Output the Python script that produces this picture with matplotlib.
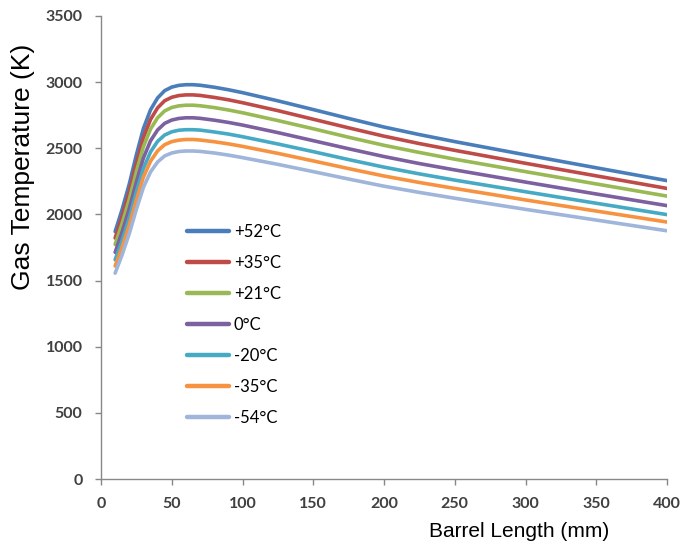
import matplotlib
matplotlib.use("Agg")
import matplotlib.pyplot as plt

# Barrel length (mm)
barrel = [10, 15, 20, 25, 30, 35, 40, 45, 50, 55, 60, 65, 70, 80, 90, 100,
          125, 150, 175, 200, 225, 250, 275, 300, 350, 400]

# Gas temperature (K) per initial propellant temperature
t_p52 = [1870, 2040, 2230, 2450, 2650, 2790, 2880, 2935, 2962, 2975, 2980, 2980, 2976,
         2961, 2942, 2920, 2858, 2792, 2725, 2660, 2603, 2550, 2500, 2450, 2352, 2255]
t_p35 = [1821, 1987, 2172, 2386, 2581, 2717, 2805, 2859, 2885, 2898, 2903, 2903, 2899,
         2884, 2866, 2844, 2784, 2719, 2654, 2591, 2535, 2484, 2435, 2386, 2291, 2196]
t_p21 = [1773, 1934, 2114, 2323, 2512, 2645, 2730, 2782, 2808, 2820, 2825, 2825, 2821,
         2807, 2789, 2768, 2709, 2647, 2583, 2522, 2468, 2417, 2370, 2323, 2230, 2138]
t_0 = [1713, 1869, 2043, 2244, 2427, 2556, 2638, 2688, 2713, 2725, 2730, 2730, 2726,
       2712, 2695, 2675, 2618, 2557, 2496, 2437, 2384, 2336, 2290, 2244, 2154, 2066]
t_m20 = [1657, 1807, 1976, 2171, 2348, 2472, 2552, 2600, 2624, 2636, 2640, 2640, 2637,
         2623, 2607, 2587, 2532, 2474, 2414, 2357, 2306, 2259, 2215, 2171, 2084, 1998]
t_m35 = [1610, 1756, 1920, 2109, 2282, 2402, 2480, 2527, 2550, 2561, 2566, 2566, 2562,
         2549, 2533, 2514, 2461, 2404, 2346, 2290, 2241, 2196, 2153, 2109, 2025, 1942]
t_m54 = [1556, 1697, 1855, 2038, 2205, 2321, 2396, 2442, 2464, 2475, 2479, 2479, 2476,
         2464, 2448, 2429, 2378, 2323, 2267, 2213, 2166, 2122, 2080, 2038, 1957, 1876]

labels = ["+52°C", "+35°C", "+21°C", "0°C", "-20°C", "-35°C", "-54°C"]
series = [t_p52, t_p35, t_p21, t_0, t_m20, t_m35, t_m54]
colors = ["#4A7EBB", "#BE4B48", "#98B954", "#7D60A0", "#46AAC5", "#F69240", "#9FB5DA"]

fig = plt.figure(figsize=(6.87, 5.52), dpi=100)
ax = fig.add_axes([0.147, 0.1322, 0.824, 0.839])

for ys, lab, c in zip(series, labels, colors):
    ax.plot(barrel, ys, color=c, lw=2.6, label=lab, solid_capstyle="round")

ax.set_xlim(0, 400)
ax.set_ylim(0, 3500)
ax.set_xticks(range(0, 401, 50))
ax.set_yticks(range(0, 3501, 500))

for s in ["top", "right"]:
    ax.spines[s].set_visible(False)
for s in ["left", "bottom"]:
    ax.spines[s].set_color("#888888")
    ax.spines[s].set_linewidth(1.0)

ax.tick_params(axis="both", direction="out", length=4.3, width=1.0, color="#888888",
               labelcolor="#404040")
ax.tick_params(axis="x", pad=8.5)
ax.tick_params(axis="y", pad=9)
for t in ax.get_xticklabels() + ax.get_yticklabels():
    t.set_fontfamily("Lato")
    t.set_fontweight("bold")
    t.set_fontsize(11.5)

ax.set_xlabel("Barrel Length (mm)", fontsize=15, family="Liberation Sans",
              ha="center", va="center")
ax.xaxis.set_label_coords(0.738, -0.113)
ax.set_ylabel("Gas Temperature (K)", fontsize=19, family="Liberation Sans",
              ha="center", va="center")
ax.yaxis.set_label_coords(-0.138, 0.675)

leg = ax.legend(loc="upper left", bbox_to_anchor=(0.152, 0.55), frameon=False,
                borderpad=0, borderaxespad=0, handlelength=2.5, handletextpad=0.3,
                labelspacing=0.9, prop={"family": "Lato", "size": 12})
for line in leg.get_lines():
    line.set_linewidth(3.2)

fig.savefig("out.png", dpi=100)
